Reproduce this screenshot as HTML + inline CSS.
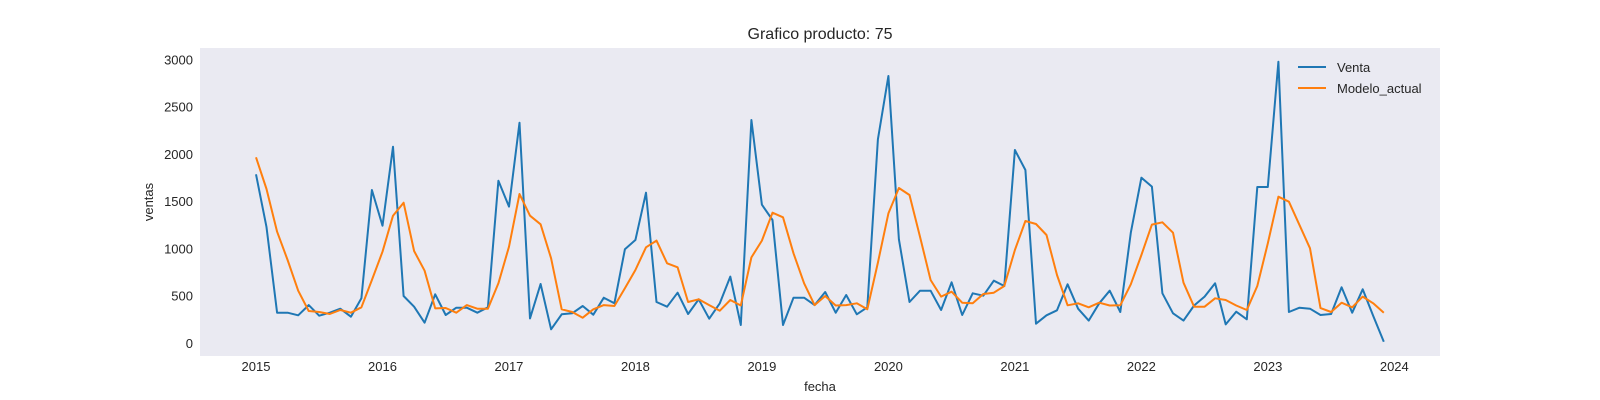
<!DOCTYPE html>
<html><head><meta charset="utf-8"><style>
html,body{margin:0;padding:0;background:#fff;}
svg{display:block;font-family:"Liberation Sans",Arial,sans-serif;}
</style></head><body>
<svg id="chart" width="1600" height="400" viewBox="0 0 1600 400">
<rect x="200" y="48" width="1240" height="308" fill="#eaeaf2"/>
<text x="820" y="39" text-anchor="middle" font-size="16" fill="#262626">Grafico producto: 75</text>
<text transform="translate(153,202) rotate(-90)" text-anchor="middle" font-size="13" fill="#262626">ventas</text>
<text x="820" y="391" text-anchor="middle" font-size="13" fill="#262626">fecha</text>
<g id="yticks"></g>
<g id="xticks"></g>
<g id="series"></g>
<g>
<line x1="1298" y1="67" x2="1326" y2="67" stroke="#1f77b4" stroke-width="2"/>
<text x="1337" y="72" font-size="13" fill="#262626">Venta</text>
<line x1="1298" y1="88" x2="1326" y2="88" stroke="#ff7f0e" stroke-width="2"/>
<text x="1337" y="93" font-size="13" fill="#262626">Modelo_actual</text>
</g>
</svg>
<script>
const startYear = 2015;
const yTickValues = [0, 500, 1000, 1500, 2000, 2500, 3000];
const xTickYears = [2015, 2016, 2017, 2018, 2019, 2020, 2021, 2022, 2023, 2024];
const venta = [1790,1230,324,324,296,405,292,324,366,282,476,1623,
1245,2082,501,388,218,519,300,377,377,324,381,1722,
1447,2336,264,628,148,307,318,395,303,483,424,995,
1094,1595,437,388,536,310,466,261,424,706,194,2364,
1468,1306,194,483,483,405,543,324,511,307,381,2160,
2830,1101,437,557,557,353,646,300,529,504,663,607,
2047,1835,208,296,349,625,366,240,424,557,331,1171,
1754,1659,529,318,240,400,494,635,200,335,254,1655,
1655,2982,331,377,366,300,310,593,324,572,290,17];
const modelo = [1969,1634,1182,882,557,342,331,310,353,324,381,670,
970,1351,1489,977,769,370,374,324,405,366,366,635,
1023,1581,1351,1260,900,360,331,271,360,405,395,582,
776,1016,1087,847,805,437,466,405,345,459,400,910,
1087,1383,1334,953,635,405,501,400,405,424,360,854,
1376,1644,1570,1129,670,494,546,430,424,522,536,607,
988,1295,1263,1147,723,402,424,381,430,400,402,625,
935,1257,1281,1171,642,388,388,476,459,400,353,607,
1058,1552,1499,1252,1006,373,331,430,381,494,424,324];

const NS = "http://www.w3.org/2000/svg";
const x0 = 256, pxPerMonth = 10.54;
function xScale(monthIndex){ return x0 + pxPerMonth*monthIndex; }
function yScale(v){ return 343.3 - v*0.09444; }

const yt = document.getElementById('yticks');
yTickValues.forEach(v=>{
  const t = document.createElementNS(NS,'text');
  t.setAttribute('x', 193);
  t.setAttribute('y', yScale(v)+4.5);
  t.setAttribute('text-anchor','end');
  t.setAttribute('font-size','13');
  t.setAttribute('fill','#262626');
  
  
  t.textContent = v;
  yt.appendChild(t);
});
const xt = document.getElementById('xticks');
xTickYears.forEach(yr=>{
  const t = document.createElementNS(NS,'text');
  t.setAttribute('x', xScale((yr-startYear)*12));
  t.setAttribute('y', 371);
  t.setAttribute('text-anchor','middle');
  t.setAttribute('font-size','13');
  t.setAttribute('fill','#262626');
  
  
  t.textContent = yr;
  xt.appendChild(t);
});
function drawLine(arr, color, name){
  const p = document.createElementNS(NS,'polyline');
  p.setAttribute('points', arr.map((v,i)=>xScale(i).toFixed(1)+','+yScale(v).toFixed(1)).join(' '));
  p.setAttribute('fill','none');
  p.setAttribute('stroke',color);
  p.setAttribute('stroke-width','2');
  p.setAttribute('stroke-linejoin','round');
  
  
  document.getElementById('series').appendChild(p);
}
drawLine(venta,'#1f77b4','venta-line');
drawLine(modelo,'#ff7f0e','modelo-actual-line');
</script>
</body></html>
